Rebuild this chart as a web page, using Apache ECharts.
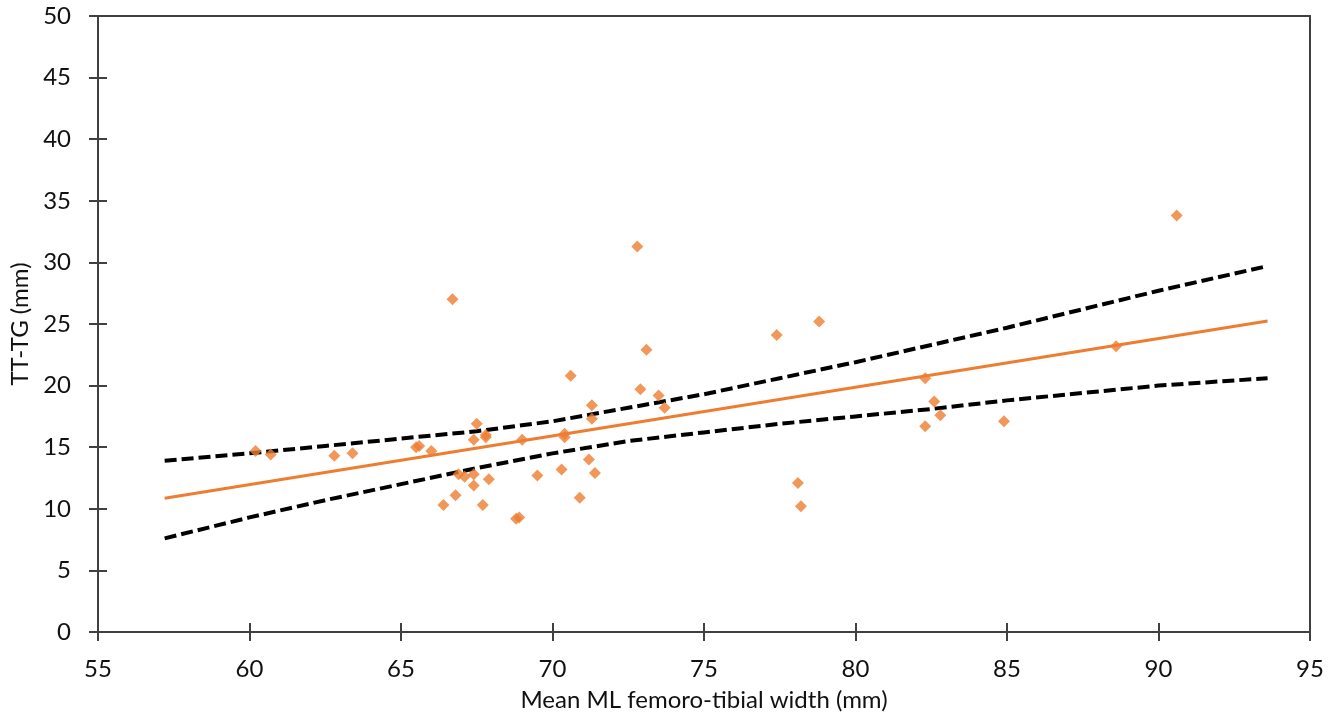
<!DOCTYPE html>
<html>
<head>
<meta charset="utf-8">
<script src="https://cdn.jsdelivr.net/npm/echarts@6/dist/echarts.min.js"></script>
<style>html,body{margin:0;padding:0;background:#fff}#c{width:1336px;height:720px}</style>
</head>
<body>
<div id="c"></div>
<script>
// Scatter data: mean ML femoro-tibial width (mm) vs TT-TG (mm)
const widthMM = [60.2,60.7,62.8,63.4,65.5,65.6,66.0,66.4,66.7,66.8,66.9,67.1,67.4,67.4,67.4,67.5,67.7,67.8,67.8,67.9,68.8,68.9,69.0,69.5,70.3,70.4,70.4,70.6,70.9,71.2,71.3,71.3,71.4,72.8,72.9,73.1,73.5,73.7,77.4,78.1,78.2,78.8,82.3,82.3,82.6,82.8,84.9,88.6,90.6];
const ttTgMM  = [14.7,14.4,14.3,14.5,15.0,15.1,14.7,10.3,27.0,11.1,12.8,12.6,12.8,11.9,15.6,16.9,10.3,15.8,16.0,12.4, 9.2, 9.3,15.6,12.7,13.2,15.8,16.1,20.8,10.9,14.0,17.3,18.4,12.9,31.3,19.7,22.9,19.2,18.2,24.1,12.1,10.2,25.2,16.7,20.6,18.7,17.6,17.1,23.2,33.8];
// Regression line
const fitX = [57.2, 93.6];
const fitY = [10.85, 25.25];
// Confidence band
const bandX  = [57.2,60.0,62.5,65.0,67.5,70.0,72.5,75.0,77.5,80.0,82.5,85.0,87.5,90.0,93.6];
const upperY = [13.9,14.5,15.1,15.7,16.3,17.1,18.2,19.3,20.6,21.9,23.3,24.7,26.2,27.7,29.7];
const lowerY = [ 7.6, 9.3,10.7,12.0,13.3,14.5,15.5,16.2,16.9,17.5,18.1,18.8,19.4,20.0,20.6];
// Axis ticks
const xTicks = {min: 55, max: 95, interval: 5};
const yTicks = {min: 0, max: 50, interval: 5};

const zip = (a, b) => a.map((v, i) => [v, b[i]]);
const FONT = 'Lato';
const AX = '#404040';
const TXT = '#111';
const chart = echarts.init(document.getElementById('c'), null, {renderer: 'canvas'});

const baseX = {
  type: 'value', min: xTicks.min, max: xTicks.max, interval: xTicks.interval,
  splitLine: {show: false}
};
const baseY = {
  type: 'value', min: yTicks.min, max: yTicks.max, interval: yTicks.interval,
  splitLine: {show: false}
};

chart.setOption({
  animation: false,
  backgroundColor: '#fff',
  grid: {left: 96, right: 26, top: 16, bottom: 88, show: true, borderColor: AX, borderWidth: 2, backgroundColor: 'transparent'},
  xAxis: [
    Object.assign({}, baseX, {
      position: 'bottom',
      name: 'Mean ML femoro-tibial width (mm)',
      nameLocation: 'middle', nameGap: 56,
      nameTextStyle: {fontFamily: FONT, fontSize: 24, color: TXT},
      axisLine: {show: true, lineStyle: {color: AX, width: 2}},
      axisTick: {show: true, inside: false, length: 9, lineStyle: {color: AX, width: 2}},
      axisLabel: {show: true, margin: 25, fontFamily: FONT, fontSize: 24, color: TXT}
    }),
    Object.assign({}, baseX, {
      position: 'bottom', offset: 0,
      axisLine: {show: false},
      axisTick: {show: true, inside: true, length: 9, lineStyle: {color: AX, width: 2}},
      axisLabel: {show: false}
    })
  ],
  yAxis: [
    Object.assign({}, baseY, {
      position: 'left',
      name: 'TT-TG (mm)',
      nameLocation: 'middle', nameGap: 66, nameRotate: 90,
      nameTextStyle: {fontFamily: FONT, fontSize: 24, color: TXT},
      axisLine: {show: true, lineStyle: {color: AX, width: 2}},
      axisTick: {show: true, inside: false, length: 9, lineStyle: {color: AX, width: 2}},
      axisLabel: {show: true, margin: 27, fontFamily: FONT, fontSize: 24, color: TXT}
    }),
    Object.assign({}, baseY, {
      position: 'left', offset: 0,
      axisLine: {show: false},
      axisTick: {show: true, inside: true, length: 9, lineStyle: {color: AX, width: 2}},
      axisLabel: {show: false}
    })
  ],
  series: [
    {
      name: 'Upper', type: 'line', xAxisIndex: 0, yAxisIndex: 0,
      data: zip(bandX, upperY), showSymbol: false, smooth: false,
      lineStyle: {color: '#000', width: 4, type: [12, 5], cap: 'butt'}, z: 2
    },
    {
      name: 'Lower', type: 'line', xAxisIndex: 0, yAxisIndex: 0,
      data: zip(bandX, lowerY), showSymbol: false, smooth: false,
      lineStyle: {color: '#000', width: 4, type: [12, 5], cap: 'butt'}, z: 2
    },
    {
      name: 'Fit', type: 'line', xAxisIndex: 0, yAxisIndex: 0,
      data: zip(fitX, fitY), showSymbol: false,
      lineStyle: {color: '#ED7D31', width: 3}, z: 3
    },
    {
      name: 'Data', type: 'scatter', xAxisIndex: 0, yAxisIndex: 0,
      data: zip(widthMM, ttTgMM), symbol: 'diamond', symbolSize: 12,
      itemStyle: {color: '#ED7D31'}, z: 4
    }
  ]
});
</script>
</body>
</html>
